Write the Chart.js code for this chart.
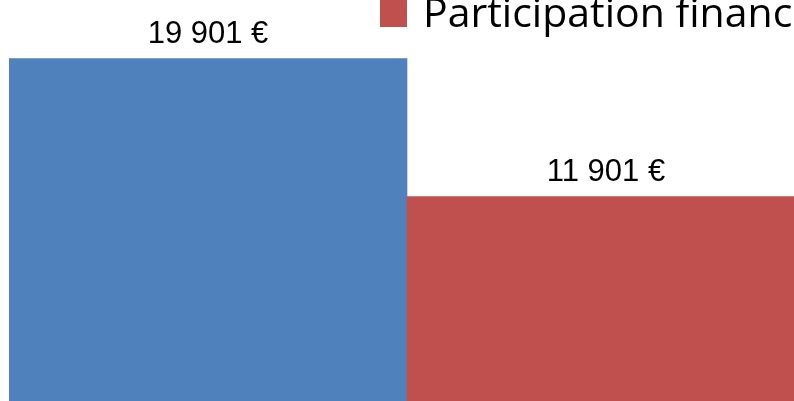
<!DOCTYPE html>
<html>
<head>
<meta charset="utf-8">
<script src="https://cdn.jsdelivr.net/npm/chart.js@4/dist/chart.umd.min.js"></script>
<style>
    html, body { margin: 0; padding: 0; background: #fff; overflow: hidden; }
    .wrap { position: relative; width: 805px; height: 402px; }
</style>
</head>
<body>
<div class="wrap"><canvas id="chart"></canvas></div>
<script>
const categories = ['Coût total', 'Participation financière'];
const values = [19901, 11901];
const barColors = ['#4F81BD', '#C0504D'];
const legendShown = [1];

function formatEuro(value) {
    const digits = String(Math.round(value));
    return digits.replace(/\B(?=(\d{3})+(?!\d))/g, ' ') + ' €';
}

const valueLabels = {
    id: 'valueLabels',
    afterDatasetsDraw(chart) {
        const ctx = chart.ctx;
        const meta = chart.getDatasetMeta(0);
        ctx.save();
        ctx.font = '31px "Liberation Sans", Arial, sans-serif';
        ctx.fillStyle = '#000';
        ctx.textAlign = 'center';
        ctx.textBaseline = 'alphabetic';
        meta.data.forEach((bar, i) => {
            ctx.fillText(formatEuro(values[i]), bar.x, bar.y - 16);
        });
        ctx.restore();
    },
};

const sideLegend = {
    id: 'sideLegend',
    afterDraw(chart) {
        const ctx = chart.ctx;
        ctx.save();
        legendShown.forEach((idx, row) => {
            const top = row * 48;
            ctx.fillStyle = barColors[idx];
            ctx.fillRect(380, top, 27, 27);
            ctx.fillStyle = '#000';
            ctx.font = '41px "Open Sans", sans-serif';
            ctx.textAlign = 'left';
            ctx.textBaseline = 'alphabetic';
            ctx.fillText(categories[idx], 423, top + 27);
        });
        ctx.restore();
    },
};

new Chart(document.getElementById('chart').getContext('2d'), {
    type: 'bar',
    data: {
        labels: categories,
        datasets: [
            {
                label: 'Montant',
                data: values,
                backgroundColor: barColors,
                borderWidth: 0,
                barPercentage: 1,
                categoryPercentage: 1,
            },
        ],
    },
    options: {
        responsive: true,
        maintainAspectRatio: false,
        animation: false,
        layout: { padding: { left: 9, right: 0, top: 0, bottom: 0 } },
        plugins: {
            legend: { display: false },
            tooltip: { enabled: false },
        },
        scales: {
            x: { display: false },
            y: { display: false, min: 0, max: 23300 },
        },
    },
    plugins: [valueLabels, sideLegend],
});
</script>
</body>
</html>
